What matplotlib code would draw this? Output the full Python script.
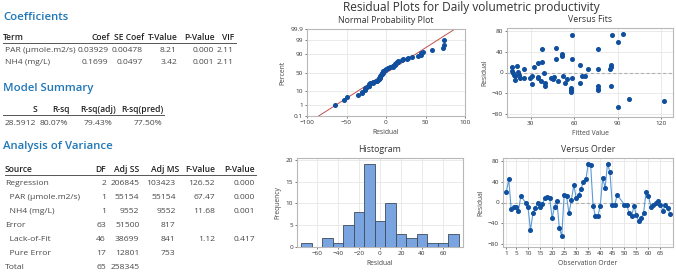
import numpy as np
import matplotlib
matplotlib.use("Agg")
import matplotlib.pyplot as plt
from statistics import NormalDist

# ---------------- data ----------------
coef_header = ["Term", "Coef", "SE Coef", "T-Value", "P-Value", "VIF"]
coef_rows = [["PAR (µmole.m2/s)", "0.03929", "0.00478", "8.21", "0.000", "2.11"],
             ["NH4 (mg/L)", "0.1699", "0.0497", "3.42", "0.001", "2.11"]]

summary_header = ["S", "R-sq", "R-sq(adj)", "R-sq(pred)"]
summary_row = ["28.5912", "80.07%", "79.43%", "77.50%"]

anova_header = ["Source", "DF", "Adj SS", "Adj MS", "F-Value", "P-Value"]
anova_rows = [["Regression", "2", "206845", "103423", "126.52", "0.000"],
              ["  PAR (µmole.m2/s)", "1", "55154", "55154", "67.47", "0.000"],
              ["  NH4 (mg/L)", "1", "9552", "9552", "11.68", "0.001"],
              ["Error", "63", "51500", "817", "", ""],
              ["  Lack-of-Fit", "46", "38699", "841", "1.12", "0.417"],
              ["  Pure Error", "17", "12801", "753", "", ""],
              ["Total", "65", "258345", "", "", ""]]

order_idx = [1, 2, 3, 4, 5, 6, 7, 9, 10, 11, 12, 13, 14, 15, 16, 17, 18, 19, 20,
             21, 22, 23, 24, 25, 26, 27, 28, 29, 30, 31, 32, 33, 34, 35, 36, 37,
             38, 39, 40, 41, 42, 43, 44, 45, 46, 47, 50, 51, 52, 53, 54, 55, 56,
             57, 58, 59, 60, 61, 62, 63, 64, 65, 66, 67, 68, 69]
order_resid = [21, 44, -13, -8, -9, -16, 12, 0, -9, -53, -21, -10, -1, -9, -3, 9,
               11, 9, -30, -8, 2, -49, -64, 15, 12, -21, 5, 33, 9, 14, 26, 40, 44,
               73, 72, -6, -26, -26, -6, 47, 28, 74, 58, -4, -5, 15, -4, -5, -21,
               -26, -7, -24, -36, -30, -20, 20, 13, -8, -5, -1, 3, -4, -16, -4,
               -11, -22]

fits = [17.1, 17.1, 17.5, 18.5, 19.4, 19.1, 20.5, 21.5, 22.0, 22.4, 25.2, 25.2,
        29.3, 30.7, 31.0, 32.0, 34.8, 34.8, 35.2, 37.6, 38.0, 37.2, 39.2, 39.7,
        39.7, 43.9, 45.2, 46.2, 47.3, 47.5, 48.7, 51.7, 51.7, 52.0, 53.8, 55.2,
        58.6, 58.4, 58.4, 57.7, 57.7, 57.9, 64.0, 64.0, 65.0, 67.2, 69.3, 76.0,
        76.0, 76.0, 76.0, 76.0, 84.7, 85.2, 85.6, 85.9, 85.6, 89.8, 90.3, 93.5,
        97.7, 122.0]
fit_resid = [11, 3, -1, -4, -6, -15, 13, 1, -5, -10, 6, -10, -10, -22, -7, 11,
             19, -8, -10, 20, 44, -17, -1, -21, -25, -10, -13, -8, 26, 46, -17,
             36, 32, -7, -21, -12, 71, 25, -10, -29, -34, -38, 14, -20, -7, -7,
             6, 44, 6, -26, -31, -34, 7, 11, 14, 72, -26, -66, 58, 74, -50, -54]

hist_centers = [-70, -60, -50, -40, -30, -20, -10, 0, 10, 20, 30, 40, 50, 60, 70]
hist_counts = [1, 0, 2, 1, 5, 8, 19, 6, 10, 3, 2, 3, 1, 1, 3]

prob_ticks = [0.1, 1, 10, 50, 90, 99, 99.9]

# ---------------- style ----------------
W, H = 676, 276
FONT = ["Open Sans", "DejaVu Sans"]
plt.rcParams['font.family'] = FONT
fig = plt.figure(figsize=(W / 100, H / 100), dpi=100)
fig.patch.set_facecolor("white")

BLUE_T = "#1f77b8"
HEAD = "#222222"
BODY = "#4a4a4a"
MK = "#0f4f9e"
LINE = "#5b9bd5"
GRID = "#e6e6e6"
SPINE = "#b8b8b8"
TICKC = "#444444"


def fx(x):
    return x / W


def fy(y):
    return 1 - y / H


def rect(l, t, r, b):
    return [l / W, 1 - b / H, (r - l) / W, (b - t) / H]


def txt(x, y, s, ha="left", size=6.2, color=BODY, weight="normal"):
    fig.text(fx(x), fy(y), s, ha=ha, va="center", fontsize=size, color=color,
             fontweight=weight)


# ---------------- tables ----------------
SEC = 8.2
TS = 6.1
txt(3, 17, "Coefficients", size=SEC, color=BLUE_T, weight="semibold")
coef_x = [3, 110, 144, 178, 214.5, 234.5]
for i, h in enumerate(coef_header):
    txt(coef_x[i], 37, h, ha="left" if i == 0 else "right", size=TS, color=HEAD,
        weight="semibold")
fig.add_artist(plt.Line2D([fx(3), fx(236)], [fy(42.5)] * 2, color="#555555", lw=0.7))
coef_vx = [5, 108.5, 143, 177, 214, 233.5]
for r, row in enumerate(coef_rows):
    for i, v in enumerate(row):
        txt(coef_vx[i], 50.7 + r * 11.7, v, ha="left" if i == 0 else "right", size=TS)

txt(3, 89, "Model Summary", size=SEC, color=BLUE_T, weight="semibold")
sum_x = [37.5, 70, 116, 163]
for i, h in enumerate(summary_header):
    txt(sum_x[i], 109, h, ha="right", size=TS, color=HEAD, weight="semibold")
fig.add_artist(plt.Line2D([fx(3), fx(164)], [fy(115)] * 2, color="#555555", lw=0.7))
sum_vx = [36, 68.5, 112, 162]
for i, v in enumerate(summary_row):
    txt(sum_vx[i], 123.3, v, ha="right", size=TS)

txt(3, 146.7, "Analysis of Variance", size=SEC, color=BLUE_T, weight="semibold")
an_x = [5, 106, 139.5, 179, 215, 255]
for i, h in enumerate(anova_header):
    txt(an_x[i], 169.3, h, ha="left" if i == 0 else "right", size=TS, color=HEAD,
        weight="semibold")
fig.add_artist(plt.Line2D([fx(5), fx(256)], [fy(174.5)] * 2, color="#555555", lw=0.7))
an_vx = [5, 106, 139.3, 175.7, 215, 255]
for r, row in enumerate(anova_rows):
    for i, v in enumerate(row):
        txt(an_vx[i], 183.3 + r * 14.0, v, ha="left" if i == 0 else "right", size=TS)

# ---------------- plots ----------------
fig.text(fx(471), fy(7), "Residual Plots for Daily volumetric productivity",
         ha="center", va="center", fontsize=8.6, color="#333333")


def style(ax):
    ax.set_facecolor("white")
    for s in ax.spines.values():
        s.set_color(SPINE)
        s.set_linewidth(0.8)
    ax.grid(True, color=GRID, lw=0.6)
    ax.set_axisbelow(True)
    ax.tick_params(labelsize=4.6, colors=TICKC, length=1.5, width=0.5, pad=1.2)
    for t in ax.get_xticklabels() + ax.get_yticklabels():
        t.set_color("#333333")


TTL = 6.3
LBL = 4.9

# Normal probability plot
ax1 = fig.add_axes(rect(307, 29, 465, 116))
res_sorted = np.sort(np.array(order_resid, dtype=float))
n = len(res_sorted)
nd = NormalDist()
pz = np.array([nd.inv_cdf((i - 0.3) / (n + 0.4)) for i in range(1, n + 1)])
zlo, zhi = nd.inv_cdf(0.001), nd.inv_cdf(0.999)
mu, sd = res_sorted.mean(), res_sorted.std(ddof=1)
zz = np.array([zlo, zhi])
ax1.plot(mu + sd * zz, zz, color="#c0504d", lw=0.7)
ax1.plot(res_sorted, pz, "o", color=MK, ms=2.6, mec=MK)
ax1.set_xlim(-100, 100)
ax1.set_ylim(zlo, zhi)
ax1.set_xticks([-100, -50, 0, 50, 100])
ax1.set_yticks([nd.inv_cdf(p / 100) for p in prob_ticks])
ax1.set_yticklabels([f"{p:g}" for p in prob_ticks])
style(ax1)
ax1.set_title("Normal Probability Plot", fontsize=TTL, color="#333333", pad=4)
ax1.set_xlabel("Residual", fontsize=LBL, color="#444444", labelpad=3)
ax1.set_ylabel("Percent", fontsize=LBL, color="#444444", labelpad=3)

# Versus fits
ax2 = fig.add_axes(rect(507, 28, 673, 117))
ax2.axhline(0, color="#b0b0b0", lw=0.8, ls=(0, (3, 2)))
ax2.plot(fits, fit_resid, "o", color=MK, ms=2.6, mec=MK)
ax2.set_xlim(13.6, 128)
ax2.set_ylim(-85, 85)
ax2.set_xticks([30, 60, 90, 120])
ax2.set_yticks([-80, -40, 0, 40, 80])
style(ax2)
ax2.set_title("Versus Fits", fontsize=TTL, color="#333333", pad=4)
ax2.set_xlabel("Fitted Value", fontsize=LBL, color="#444444", labelpad=3)
ax2.set_ylabel("Residual", fontsize=LBL, color="#444444", labelpad=3)

# Histogram
ax3 = fig.add_axes(rect(297, 158, 463, 247))
ax3.bar(hist_centers, hist_counts, width=10, color="#7aa4df", edgecolor="#3d4a5c",
        lw=0.6, zorder=3)
ax3.set_xlim(-79, 79)
ax3.set_ylim(0, 20.4)
ax3.set_xticks([-60, -40, -20, 0, 20, 40, 60])
ax3.set_yticks([0, 5, 10, 15, 20])
style(ax3)
ax3.set_title("Histogram", fontsize=TTL, color="#333333", pad=4)
ax3.set_xlabel("Residual", fontsize=LBL, color="#444444", labelpad=3)
ax3.set_ylabel("Frequency", fontsize=LBL, color="#444444", labelpad=3)

# Versus order
ax4 = fig.add_axes(rect(503, 158, 673, 247))
ax4.axhline(0, color="#b0b0b0", lw=0.8, ls=(0, (3, 2)))
ax4.plot(order_idx, order_resid, "-", color=LINE, lw=0.8)
ax4.plot(order_idx, order_resid, "o", color=MK, ms=2.6, mec=MK)
ax4.set_xlim(-0.4, 70.2)
ax4.set_ylim(-85, 85)
ax4.set_xticks([1] + list(range(5, 70, 5)))
ax4.set_yticks([-80, -40, 0, 40, 80])
style(ax4)
ax4.set_title("Versus Order", fontsize=TTL, color="#333333", pad=4)
ax4.set_xlabel("Observation Order", fontsize=LBL, color="#444444", labelpad=3)
ax4.set_ylabel("Residual", fontsize=LBL, color="#444444", labelpad=3)

fig.savefig("out.png", dpi=100, facecolor="white")
